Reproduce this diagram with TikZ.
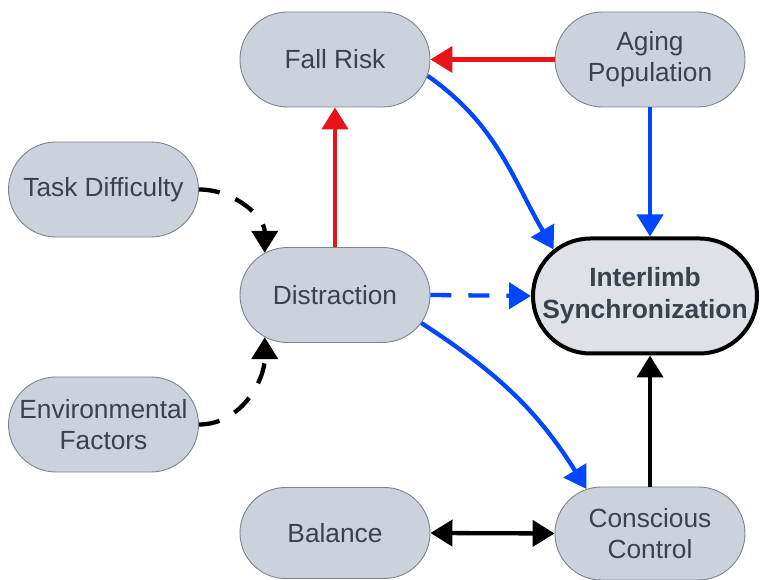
\documentclass[tikz,border=0pt]{standalone}
\usepackage{fontspec}
\setmainfont{Liberation Sans}
\usetikzlibrary{arrows.meta,shapes.misc}
\definecolor{nodefill}{HTML}{CBD2DB}
\definecolor{interfill}{HTML}{DEE1E6}
\definecolor{nodeborder}{HTML}{7D848C}
\definecolor{textcol}{HTML}{3B424B}
\definecolor{myred}{HTML}{E8141A}
\definecolor{myblue}{HTML}{0047FF}
\tikzset{
  pill/.style={rounded rectangle, draw=nodeborder, line width=0.9pt, fill=nodefill,
    minimum width=190pt, minimum height=95pt, inner sep=0pt, align=center,
    text=textcol, font=\fontsize{26.3}{31}\selectfont},
  mainpill/.style={pill, draw=black, line width=4pt, fill=interfill,
    minimum width=224pt, minimum height=115pt, font=\bfseries\fontsize{26.4}{32}\selectfont},
  conn/.style={line width=4.3pt, -{Triangle[length=22pt,width=26pt]}},
  redconn/.style={conn, draw=myred},
  blueconn/.style={conn, draw=myblue},
  blackconn/.style={conn, draw=black},
  dashconn/.style={conn, dash pattern=on 21pt off 17pt},
}
\begin{document}
\begin{tikzpicture}[x=1pt,y=1pt]
\useasboundingbox (0,0) rectangle (761,580);
\node[pill] (FR) at (335,520.5) {Fall Risk};
\node[pill] (AG) at (650,520.5) {Aging\\Population};
\node[pill] (TD) at (103.5,390.5) {Task Difficulty};
\node[pill] (DI) at (335,285) {Distraction};
\node[mainpill] (IS) at (645,284) {Interlimb\\Synchronization};
\node[pill] (EF) at (103.5,155.5) {Environmental\\Factors};
\node[pill, minimum height=91pt] (BA) at (335,47) {Balance};
\node[pill, minimum height=93pt] (CC) at (650,46.5) {Conscious\\Control};

\draw[redconn] (AG.west) -- (FR.east);
\draw[redconn] (DI.north) -- (FR.south);
\draw[blueconn] (FR.-10) to[out=-35,in=120] (IS.153);
\draw[blueconn] (AG.south) -- ([xshift=5pt]IS.north);
\draw[blackconn, dashconn] (TD.east) to[out=0,in=90] (DI.149);
\draw[blackconn, dashconn] (EF.east) to[out=0,in=-90] (DI.211);
\draw[blueconn, dashconn] (DI.east) -- (IS.west);
\draw[blueconn] (DI.-18) to[out=-33,in=122] (CC.145);
\draw[blackconn] (CC.north) -- ([xshift=5pt]IS.south);
\draw[blackconn, {Triangle[length=22pt,width=26pt]}-{Triangle[length=22pt,width=26pt]}] (BA.east) -- (CC.west);
\end{tikzpicture}
\end{document}
